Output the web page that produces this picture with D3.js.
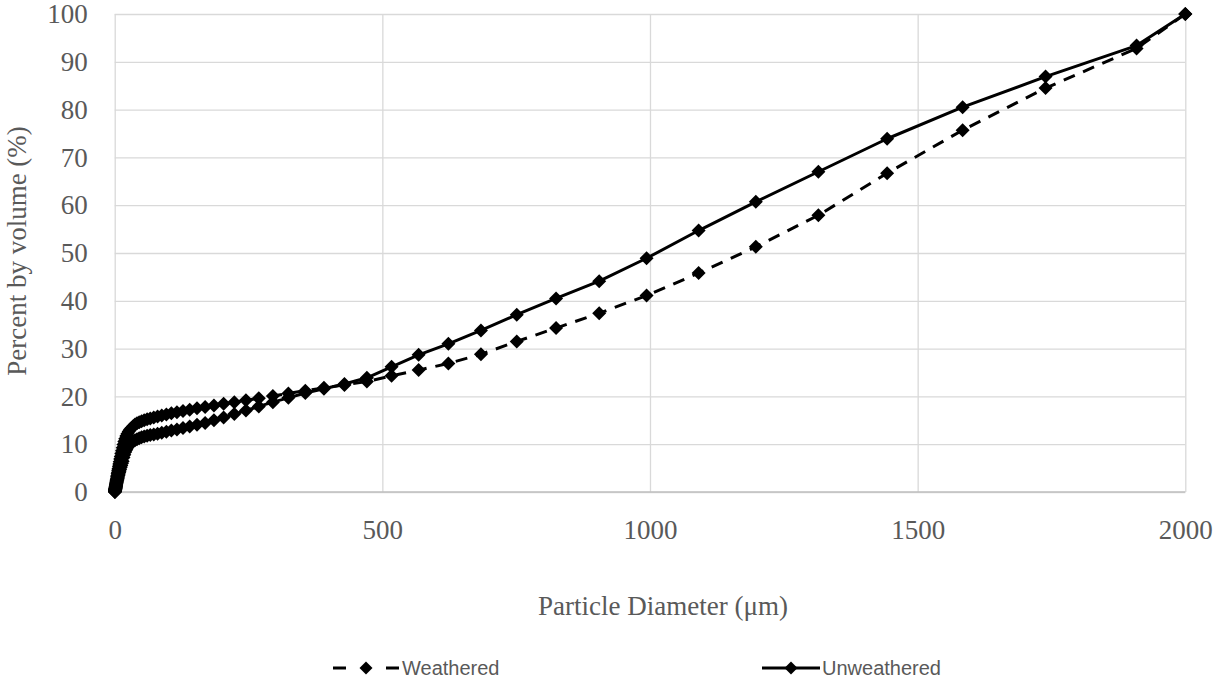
<!DOCTYPE html>
<html>
<head>
<meta charset="utf-8">
<script src="https://cdn.jsdelivr.net/npm/d3@7"></script>
<style>
  html, body { margin: 0; padding: 0; background: #fff; }
  svg { display: block; }
</style>
</head>
<body>
<svg id="chart" width="1219" height="682"></svg>
<script>
// Particle diameter (µm) — channel centres
const diameters = [
  0.393, 0.432, 0.474, 0.520, 0.571, 0.627, 0.688, 0.755, 0.829, 0.911,
  1.000, 1.097, 1.204, 1.322, 1.451, 1.593, 1.749, 1.920, 2.107, 2.313,
  2.539, 2.787, 3.060, 3.359, 3.687, 4.048, 4.444, 4.878, 5.355, 5.879,
  6.453, 7.084, 7.777, 8.537, 9.371, 10.29, 11.29, 12.40, 13.61, 14.94,
  16.40, 18.00, 19.76, 21.70, 23.81, 26.14, 28.70, 31.51, 34.59, 37.97,
  41.68, 45.75, 50.23, 55.13, 60.53, 66.44, 72.94, 80.07, 87.89, 96.49,
  105.9, 116.3, 127.6, 140.1, 153.8, 168.9, 185.4, 203.5, 223.4, 245.2,
  269.2, 295.5, 324.4, 356.1, 390.9, 429.2, 471.1, 517.2, 567.8, 623.3,
  684.2, 751.1, 824.5, 905.1, 993.6, 1090.8, 1197.7, 1314.6, 1443, 1584,
  1739, 1909, 2000
];

// Cumulative percent by volume
const weathered = [
  0.05, 0.10, 0.15, 0.20, 0.25, 0.30, 0.36, 0.42, 0.48, 0.55,
  0.62, 0.70, 0.78, 0.87, 0.97, 1.08, 1.20, 1.33, 1.47, 1.62,
  1.79, 1.97, 2.17, 2.39, 2.63, 2.89, 3.17, 3.47, 3.80, 4.15,
  4.53, 4.94, 5.38, 5.85, 6.35, 6.88, 7.44, 8.03, 8.65, 9.28,
  9.92, 10.55, 11.15, 11.7, 12.2, 12.65, 13.05, 13.4, 13.75, 14.1,
  14.4, 14.6, 14.8, 15.0, 15.2, 15.4, 15.6, 15.8, 16.0, 16.2,
  16.45, 16.7, 16.95, 17.2, 17.5, 17.8, 18.1, 18.45, 18.8, 19.2,
  19.6, 20.1, 20.6, 21.2, 21.8, 22.4, 23.1, 24.3, 25.5, 26.9,
  28.8, 31.5, 34.3, 37.4, 41.1, 45.8, 51.3, 57.9, 66.7, 75.7,
  84.5, 92.8, 100
];

const unweathered = [
  0.03, 0.06, 0.09, 0.12, 0.16, 0.20, 0.24, 0.28, 0.33, 0.38,
  0.43, 0.49, 0.55, 0.62, 0.69, 0.77, 0.86, 0.95, 1.05, 1.16,
  1.28, 1.41, 1.55, 1.70, 1.86, 2.04, 2.23, 2.44, 2.66, 2.90,
  3.16, 3.44, 3.74, 4.06, 4.40, 4.77, 5.16, 5.57, 6.00, 6.45,
  7.2, 7.8, 8.35, 8.85, 9.3, 9.7, 10.05, 10.35, 10.6, 10.85,
  11.05, 11.25, 11.45, 11.6, 11.75, 11.9, 12.05, 12.2, 12.4, 12.6,
  12.85, 13.1, 13.4, 13.7, 14.05, 14.45, 15.0, 15.6, 16.3, 17.05,
  17.9, 18.8, 19.7, 20.7, 21.6, 22.6, 23.9, 26.2, 28.7, 31.0,
  33.8, 37.1, 40.5, 44.1, 48.9, 54.7, 60.7, 67.0, 73.9, 80.5,
  86.9, 93.4, 100
];

const xTicks = [0, 500, 1000, 1500, 2000];
const yTicks = [0, 10, 20, 30, 40, 50, 60, 70, 80, 90, 100];
const seriesNames = ["Weathered", "Unweathered"];

const svg = d3.select("#chart");
const plot = { left: 114.7, right: 1185.3, top: 14, bottom: 492 };

const x = d3.scaleLinear().domain([0, 2000]).range([plot.left, plot.right]);
const y = d3.scaleLinear().domain([0, 100]).range([plot.bottom, plot.top]);

const gridColor = "#d9d9d9";
const textColor = "#595959";
const serif = "'Liberation Serif', 'Times New Roman', serif";

// Horizontal gridlines
svg.append("g")
  .attr("transform", `translate(${plot.left},0)`)
  .call(d3.axisLeft(y).tickValues(yTicks).tickSize(-(plot.right - plot.left)).tickFormat(""))
  .call(g => g.select(".domain").remove())
  .call(g => g.selectAll(".tick line").attr("stroke", gridColor).attr("stroke-width", 1.3));

// Vertical gridlines
svg.append("g")
  .attr("transform", `translate(0,${plot.bottom})`)
  .call(d3.axisBottom(x).tickValues(xTicks).tickSize(-(plot.bottom - plot.top)).tickFormat(""))
  .call(g => g.select(".domain").remove())
  .call(g => g.selectAll(".tick line").attr("stroke", gridColor).attr("stroke-width", 1.3));

// Bottom axis line
svg.append("line")
  .attr("x1", plot.left).attr("x2", plot.right)
  .attr("y1", plot.bottom).attr("y2", plot.bottom)
  .attr("stroke", "#bfbfbf").attr("stroke-width", 1.3);

// Y tick labels
svg.append("g")
  .attr("transform", `translate(${plot.left},0)`)
  .call(d3.axisLeft(y).tickValues(yTicks).tickSize(0).tickPadding(27).tickFormat(d3.format("d")))
  .call(g => g.select(".domain").remove())
  .call(g => g.selectAll("text")
    .attr("font-family", serif).attr("font-size", 27).attr("fill", textColor));

// X tick labels
svg.append("g")
  .attr("transform", `translate(0,${plot.bottom})`)
  .call(d3.axisBottom(x).tickValues(xTicks).tickSize(0).tickPadding(28).tickFormat(d3.format("d")))
  .call(g => g.select(".domain").remove())
  .call(g => g.selectAll("text")
    .attr("font-family", serif).attr("font-size", 27).attr("fill", textColor));

// Axis titles
svg.append("text")
  .attr("x", 663).attr("y", 615)
  .attr("text-anchor", "middle")
  .attr("font-family", serif).attr("font-size", 27).attr("fill", textColor)
  .text("Particle Diameter (μm)");

svg.append("text")
  .attr("transform", "translate(26,251) rotate(-90)")
  .attr("text-anchor", "middle")
  .attr("font-family", serif).attr("font-size", 27).attr("fill", textColor)
  .text("Percent by volume (%)");

// Series
const data = [
  { name: seriesNames[0], values: weathered, dash: "12,9" },
  { name: seriesNames[1], values: unweathered, dash: null }
];

const line = d3.line().x(d => x(d[0])).y(d => y(d[1]));
const diamond = r => `M0,${-r}L${r},0L0,${r}L${-r},0Z`;
const R = 7;

data.forEach(s => {
  const pts = diameters.map((d, i) => [d, s.values[i]]);
  const g = svg.append("g");
  g.append("path")
    .datum(pts)
    .attr("d", line)
    .attr("fill", "none")
    .attr("stroke", "#000")
    .attr("stroke-width", 3)
    .attr("stroke-linejoin", "round")
    .attr("stroke-dasharray", s.dash);
  g.selectAll("path.m")
    .data(pts)
    .join("path")
    .attr("class", "m")
    .attr("transform", d => `translate(${x(d[0])},${y(d[1])})`)
    .attr("d", diamond(R))
    .attr("fill", "#000");
});

// Legend
const legendY = 668;
const legendFont = "'Liberation Sans', Arial, sans-serif";
const lg1 = svg.append("g");
lg1.append("line").attr("x1", 333).attr("x2", 399).attr("y1", legendY).attr("y2", legendY)
  .attr("stroke", "#000").attr("stroke-width", 3).attr("stroke-dasharray", "13,40,13");
lg1.append("path").attr("transform", `translate(366,${legendY})`).attr("d", diamond(6.5)).attr("fill", "#000");
lg1.append("text").attr("x", 402).attr("y", legendY).attr("dy", "0.35em")
  .attr("font-family", legendFont).attr("font-size", 20).attr("fill", textColor)
  .text(seriesNames[0]);

const lg2 = svg.append("g");
lg2.append("line").attr("x1", 762).attr("x2", 820).attr("y1", legendY).attr("y2", legendY)
  .attr("stroke", "#000").attr("stroke-width", 3);
lg2.append("path").attr("transform", `translate(791,${legendY})`).attr("d", diamond(6.5)).attr("fill", "#000");
lg2.append("text").attr("x", 822).attr("y", legendY).attr("dy", "0.35em")
  .attr("font-family", legendFont).attr("font-size", 20).attr("fill", textColor)
  .text(seriesNames[1]);
</script>
</body>
</html>
